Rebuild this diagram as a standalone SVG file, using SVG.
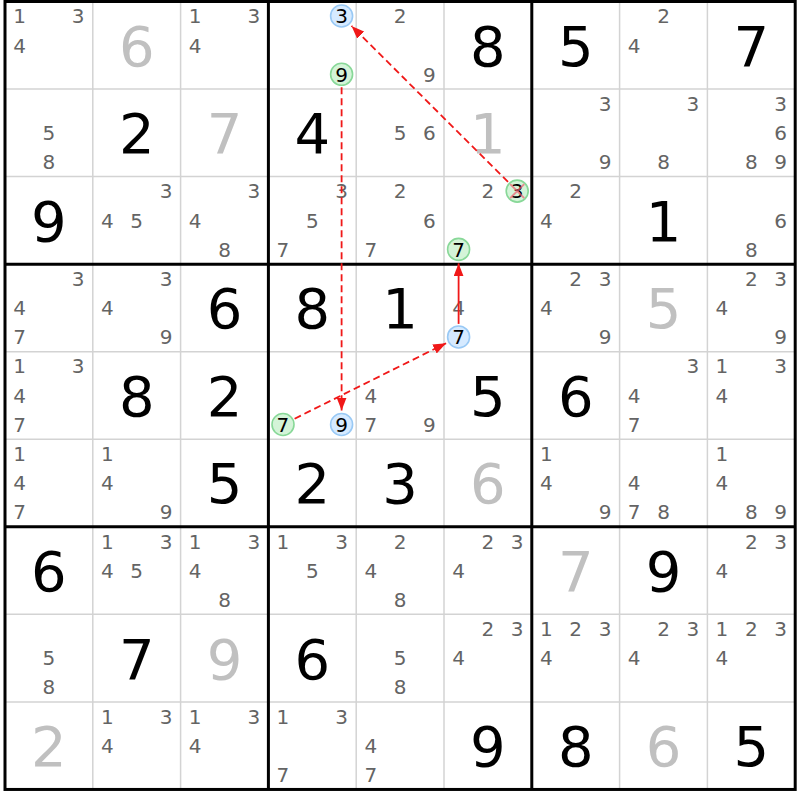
<svg xmlns="http://www.w3.org/2000/svg" width="800" height="800" viewBox="0 0 800 800">
<style>
text{font-family:"DejaVu Sans","Liberation Sans",sans-serif;text-anchor:middle}
.c{font-size:20px;fill:#646464}
.g{font-size:56px;fill:#000}
.s{font-size:56px;fill:#c0c0c0}
.h{font-size:20px;fill:#000}
.cb{fill:#d6eaff;stroke:#99c9f5;stroke-width:1.6}
.cg{fill:#d4f4d8;stroke:#88d898;stroke-width:1.6}
.thin{stroke:#d3d3d3;stroke-width:1.5}
.thick{stroke:#000;stroke-width:3}
.lk{stroke:#f01818;stroke-width:1.8;fill:none}
.dash{stroke-dasharray:7 4}
</style>
<defs>
<marker id="ah" markerUnits="userSpaceOnUse" markerWidth="13" markerHeight="10" refX="13" refY="5" orient="auto">
<path d="M0,0 L13,5 L0,10 z" fill="#f01818"/>
</marker>
</defs>
<rect width="800" height="800" fill="#fff"/>
<g id="cells">
<!-- row 1 -->
<g id="r1c1" transform="translate(5,1.5)"><text class="c" x="14.6" y="21.8">1</text><text class="c" x="73.2" y="21.8">3</text><text class="c" x="14.6" y="51.1">4</text></g>
<g id="r1c2" transform="translate(92.8,1.5)"><text class="s" x="43.9" y="64.2">6</text></g>
<g id="r1c3" transform="translate(180.6,1.5)"><text class="c" x="14.6" y="21.8">1</text><text class="c" x="73.2" y="21.8">3</text><text class="c" x="14.6" y="51.1">4</text></g>
<g id="r1c4" transform="translate(268.4,1.5)"><circle class="cb" cx="73.2" cy="14.5" r="11"/><text class="h" x="73.2" y="21.8">3</text><circle class="cg" cx="73.2" cy="72.8" r="11"/><text class="h" x="73.2" y="80.1">9</text></g>
<g id="r1c5" transform="translate(356.2,1.5)"><text class="c" x="43.9" y="21.8">2</text><text class="c" x="73.2" y="80.1">9</text></g>
<g id="r1c6" transform="translate(444,1.5)"><text class="g" x="43.9" y="64.2">8</text></g>
<g id="r1c7" transform="translate(531.8,1.5)"><text class="g" x="43.9" y="64.2">5</text></g>
<g id="r1c8" transform="translate(619.6,1.5)"><text class="c" x="43.9" y="21.8">2</text><text class="c" x="14.6" y="51.1">4</text></g>
<g id="r1c9" transform="translate(707.4,1.5)"><text class="g" x="43.9" y="64.2">7</text></g>
<!-- row 2 -->
<g id="r2c1" transform="translate(5,89.05)"><text class="c" x="43.9" y="51.1">5</text><text class="c" x="43.9" y="80.1">8</text></g>
<g id="r2c2" transform="translate(92.8,89.05)"><text class="g" x="43.9" y="64.2">2</text></g>
<g id="r2c3" transform="translate(180.6,89.05)"><text class="s" x="43.9" y="64.2">7</text></g>
<g id="r2c4" transform="translate(268.4,89.05)"><text class="g" x="43.9" y="64.2">4</text></g>
<g id="r2c5" transform="translate(356.2,89.05)"><text class="c" x="43.9" y="51.1">5</text><text class="c" x="73.2" y="51.1">6</text></g>
<g id="r2c6" transform="translate(444,89.05)"><text class="s" x="43.9" y="64.2">1</text></g>
<g id="r2c7" transform="translate(531.8,89.05)"><text class="c" x="73.2" y="21.8">3</text><text class="c" x="73.2" y="80.1">9</text></g>
<g id="r2c8" transform="translate(619.6,89.05)"><text class="c" x="73.2" y="21.8">3</text><text class="c" x="43.9" y="80.1">8</text></g>
<g id="r2c9" transform="translate(707.4,89.05)"><text class="c" x="73.2" y="21.8">3</text><text class="c" x="73.2" y="51.1">6</text><text class="c" x="43.9" y="80.1">8</text><text class="c" x="73.2" y="80.1">9</text></g>
<!-- row 3 -->
<g id="r3c1" transform="translate(5,176.6)"><text class="g" x="43.9" y="64.2">9</text></g>
<g id="r3c2" transform="translate(92.8,176.6)"><text class="c" x="73.2" y="21.8">3</text><text class="c" x="14.6" y="51.1">4</text><text class="c" x="43.9" y="51.1">5</text></g>
<g id="r3c3" transform="translate(180.6,176.6)"><text class="c" x="73.2" y="21.8">3</text><text class="c" x="14.6" y="51.1">4</text><text class="c" x="43.9" y="80.1">8</text></g>
<g id="r3c4" transform="translate(268.4,176.6)"><text class="c" x="73.2" y="21.8">3</text><text class="c" x="43.9" y="51.1">5</text><text class="c" x="14.6" y="80.1">7</text></g>
<g id="r3c5" transform="translate(356.2,176.6)"><text class="c" x="43.9" y="21.8">2</text><text class="c" x="73.2" y="51.1">6</text><text class="c" x="14.6" y="80.1">7</text></g>
<g id="r3c6" transform="translate(444,176.6)"><text class="c" x="43.9" y="21.8">2</text><circle class="cg" cx="73.2" cy="14.5" r="11"/><text class="h" x="73.2" y="21.8">3</text><path d="M66.2,7.5 L80.2,21.5 M66.2,21.5 L80.2,7.5" stroke="#f06070" stroke-width="2" opacity="0.7"/><circle class="cg" cx="14.6" cy="72.8" r="11"/><text class="h" x="14.6" y="80.1">7</text></g>
<g id="r3c7" transform="translate(531.8,176.6)"><text class="c" x="43.9" y="21.8">2</text><text class="c" x="14.6" y="51.1">4</text></g>
<g id="r3c8" transform="translate(619.6,176.6)"><text class="g" x="43.9" y="64.2">1</text></g>
<g id="r3c9" transform="translate(707.4,176.6)"><text class="c" x="73.2" y="51.1">6</text><text class="c" x="43.9" y="80.1">8</text></g>
<!-- row 4 -->
<g id="r4c1" transform="translate(5,264.15)"><text class="c" x="73.2" y="21.8">3</text><text class="c" x="14.6" y="51.1">4</text><text class="c" x="14.6" y="80.1">7</text></g>
<g id="r4c2" transform="translate(92.8,264.15)"><text class="c" x="73.2" y="21.8">3</text><text class="c" x="14.6" y="51.1">4</text><text class="c" x="73.2" y="80.1">9</text></g>
<g id="r4c3" transform="translate(180.6,264.15)"><text class="g" x="43.9" y="64.2">6</text></g>
<g id="r4c4" transform="translate(268.4,264.15)"><text class="g" x="43.9" y="64.2">8</text></g>
<g id="r4c5" transform="translate(356.2,264.15)"><text class="g" x="43.9" y="64.2">1</text></g>
<g id="r4c6" transform="translate(444,264.15)"><text class="c" x="14.6" y="51.1">4</text><circle class="cb" cx="14.6" cy="72.8" r="11"/><text class="h" x="14.6" y="80.1">7</text></g>
<g id="r4c7" transform="translate(531.8,264.15)"><text class="c" x="43.9" y="21.8">2</text><text class="c" x="73.2" y="21.8">3</text><text class="c" x="14.6" y="51.1">4</text><text class="c" x="73.2" y="80.1">9</text></g>
<g id="r4c8" transform="translate(619.6,264.15)"><text class="s" x="43.9" y="64.2">5</text></g>
<g id="r4c9" transform="translate(707.4,264.15)"><text class="c" x="43.9" y="21.8">2</text><text class="c" x="73.2" y="21.8">3</text><text class="c" x="14.6" y="51.1">4</text><text class="c" x="73.2" y="80.1">9</text></g>
<!-- row 5 -->
<g id="r5c1" transform="translate(5,351.7)"><text class="c" x="14.6" y="21.8">1</text><text class="c" x="73.2" y="21.8">3</text><text class="c" x="14.6" y="51.1">4</text><text class="c" x="14.6" y="80.1">7</text></g>
<g id="r5c2" transform="translate(92.8,351.7)"><text class="g" x="43.9" y="64.2">8</text></g>
<g id="r5c3" transform="translate(180.6,351.7)"><text class="g" x="43.9" y="64.2">2</text></g>
<g id="r5c4" transform="translate(268.4,351.7)"><circle class="cg" cx="14.6" cy="72.8" r="11"/><text class="h" x="14.6" y="80.1">7</text><circle class="cb" cx="73.2" cy="72.8" r="11"/><text class="h" x="73.2" y="80.1">9</text></g>
<g id="r5c5" transform="translate(356.2,351.7)"><text class="c" x="14.6" y="51.1">4</text><text class="c" x="14.6" y="80.1">7</text><text class="c" x="73.2" y="80.1">9</text></g>
<g id="r5c6" transform="translate(444,351.7)"><text class="g" x="43.9" y="64.2">5</text></g>
<g id="r5c7" transform="translate(531.8,351.7)"><text class="g" x="43.9" y="64.2">6</text></g>
<g id="r5c8" transform="translate(619.6,351.7)"><text class="c" x="73.2" y="21.8">3</text><text class="c" x="14.6" y="51.1">4</text><text class="c" x="14.6" y="80.1">7</text></g>
<g id="r5c9" transform="translate(707.4,351.7)"><text class="c" x="14.6" y="21.8">1</text><text class="c" x="73.2" y="21.8">3</text><text class="c" x="14.6" y="51.1">4</text></g>
<!-- row 6 -->
<g id="r6c1" transform="translate(5,439.25)"><text class="c" x="14.6" y="21.8">1</text><text class="c" x="14.6" y="51.1">4</text><text class="c" x="14.6" y="80.1">7</text></g>
<g id="r6c2" transform="translate(92.8,439.25)"><text class="c" x="14.6" y="21.8">1</text><text class="c" x="14.6" y="51.1">4</text><text class="c" x="73.2" y="80.1">9</text></g>
<g id="r6c3" transform="translate(180.6,439.25)"><text class="g" x="43.9" y="64.2">5</text></g>
<g id="r6c4" transform="translate(268.4,439.25)"><text class="g" x="43.9" y="64.2">2</text></g>
<g id="r6c5" transform="translate(356.2,439.25)"><text class="g" x="43.9" y="64.2">3</text></g>
<g id="r6c6" transform="translate(444,439.25)"><text class="s" x="43.9" y="64.2">6</text></g>
<g id="r6c7" transform="translate(531.8,439.25)"><text class="c" x="14.6" y="21.8">1</text><text class="c" x="14.6" y="51.1">4</text><text class="c" x="73.2" y="80.1">9</text></g>
<g id="r6c8" transform="translate(619.6,439.25)"><text class="c" x="14.6" y="51.1">4</text><text class="c" x="14.6" y="80.1">7</text><text class="c" x="43.9" y="80.1">8</text></g>
<g id="r6c9" transform="translate(707.4,439.25)"><text class="c" x="14.6" y="21.8">1</text><text class="c" x="14.6" y="51.1">4</text><text class="c" x="43.9" y="80.1">8</text><text class="c" x="73.2" y="80.1">9</text></g>
<!-- row 7 -->
<g id="r7c1" transform="translate(5,526.8)"><text class="g" x="43.9" y="64.2">6</text></g>
<g id="r7c2" transform="translate(92.8,526.8)"><text class="c" x="14.6" y="21.8">1</text><text class="c" x="73.2" y="21.8">3</text><text class="c" x="14.6" y="51.1">4</text><text class="c" x="43.9" y="51.1">5</text></g>
<g id="r7c3" transform="translate(180.6,526.8)"><text class="c" x="14.6" y="21.8">1</text><text class="c" x="73.2" y="21.8">3</text><text class="c" x="14.6" y="51.1">4</text><text class="c" x="43.9" y="80.1">8</text></g>
<g id="r7c4" transform="translate(268.4,526.8)"><text class="c" x="14.6" y="21.8">1</text><text class="c" x="73.2" y="21.8">3</text><text class="c" x="43.9" y="51.1">5</text></g>
<g id="r7c5" transform="translate(356.2,526.8)"><text class="c" x="43.9" y="21.8">2</text><text class="c" x="14.6" y="51.1">4</text><text class="c" x="43.9" y="80.1">8</text></g>
<g id="r7c6" transform="translate(444,526.8)"><text class="c" x="43.9" y="21.8">2</text><text class="c" x="73.2" y="21.8">3</text><text class="c" x="14.6" y="51.1">4</text></g>
<g id="r7c7" transform="translate(531.8,526.8)"><text class="s" x="43.9" y="64.2">7</text></g>
<g id="r7c8" transform="translate(619.6,526.8)"><text class="g" x="43.9" y="64.2">9</text></g>
<g id="r7c9" transform="translate(707.4,526.8)"><text class="c" x="43.9" y="21.8">2</text><text class="c" x="73.2" y="21.8">3</text><text class="c" x="14.6" y="51.1">4</text></g>
<!-- row 8 -->
<g id="r8c1" transform="translate(5,614.35)"><text class="c" x="43.9" y="51.1">5</text><text class="c" x="43.9" y="80.1">8</text></g>
<g id="r8c2" transform="translate(92.8,614.35)"><text class="g" x="43.9" y="64.2">7</text></g>
<g id="r8c3" transform="translate(180.6,614.35)"><text class="s" x="43.9" y="64.2">9</text></g>
<g id="r8c4" transform="translate(268.4,614.35)"><text class="g" x="43.9" y="64.2">6</text></g>
<g id="r8c5" transform="translate(356.2,614.35)"><text class="c" x="43.9" y="51.1">5</text><text class="c" x="43.9" y="80.1">8</text></g>
<g id="r8c6" transform="translate(444,614.35)"><text class="c" x="43.9" y="21.8">2</text><text class="c" x="73.2" y="21.8">3</text><text class="c" x="14.6" y="51.1">4</text></g>
<g id="r8c7" transform="translate(531.8,614.35)"><text class="c" x="14.6" y="21.8">1</text><text class="c" x="43.9" y="21.8">2</text><text class="c" x="73.2" y="21.8">3</text><text class="c" x="14.6" y="51.1">4</text></g>
<g id="r8c8" transform="translate(619.6,614.35)"><text class="c" x="43.9" y="21.8">2</text><text class="c" x="73.2" y="21.8">3</text><text class="c" x="14.6" y="51.1">4</text></g>
<g id="r8c9" transform="translate(707.4,614.35)"><text class="c" x="14.6" y="21.8">1</text><text class="c" x="43.9" y="21.8">2</text><text class="c" x="73.2" y="21.8">3</text><text class="c" x="14.6" y="51.1">4</text></g>
<!-- row 9 -->
<g id="r9c1" transform="translate(5,701.9)"><text class="s" x="43.9" y="64.2">2</text></g>
<g id="r9c2" transform="translate(92.8,701.9)"><text class="c" x="14.6" y="21.8">1</text><text class="c" x="73.2" y="21.8">3</text><text class="c" x="14.6" y="51.1">4</text></g>
<g id="r9c3" transform="translate(180.6,701.9)"><text class="c" x="14.6" y="21.8">1</text><text class="c" x="73.2" y="21.8">3</text><text class="c" x="14.6" y="51.1">4</text></g>
<g id="r9c4" transform="translate(268.4,701.9)"><text class="c" x="14.6" y="21.8">1</text><text class="c" x="73.2" y="21.8">3</text><text class="c" x="14.6" y="80.1">7</text></g>
<g id="r9c5" transform="translate(356.2,701.9)"><text class="c" x="14.6" y="51.1">4</text><text class="c" x="14.6" y="80.1">7</text></g>
<g id="r9c6" transform="translate(444,701.9)"><text class="g" x="43.9" y="64.2">9</text></g>
<g id="r9c7" transform="translate(531.8,701.9)"><text class="g" x="43.9" y="64.2">8</text></g>
<g id="r9c8" transform="translate(619.6,701.9)"><text class="s" x="43.9" y="64.2">6</text></g>
<g id="r9c9" transform="translate(707.4,701.9)"><text class="g" x="43.9" y="64.2">5</text></g>
</g>
<g id="grid">
<path class="thin" d="M92.8,1.5V789.45M180.6,1.5V789.45M356.2,1.5V789.45M444,1.5V789.45M619.6,1.5V789.45M707.4,1.5V789.45M5,89.05H795.2M5,176.6H795.2M5,351.7H795.2M5,439.25H795.2M5,614.35H795.2M5,701.9H795.2"/>
<path class="thick" d="M268.4,1.5V789.45M531.8,1.5V789.45M5,264.15H795.2M5,526.8H795.2"/>
<rect class="thick" x="5" y="1.5" width="790.2" height="787.95" fill="none"/>
</g>
<g id="links">
<line class="lk dash" x1="508" y1="181.9" x2="351.5" y2="25.9" marker-end="url(#ah)"/>
<line class="lk dash" x1="341.6" y1="87.3" x2="341.6" y2="410.5" marker-end="url(#ah)"/>
<line class="lk dash" x1="294.6" y1="418.7" x2="446.1" y2="343.2" marker-end="url(#ah)"/>
<line class="lk" x1="458.6" y1="323.9" x2="458.6" y2="263.4" marker-end="url(#ah)"/>
</g>
</svg>
